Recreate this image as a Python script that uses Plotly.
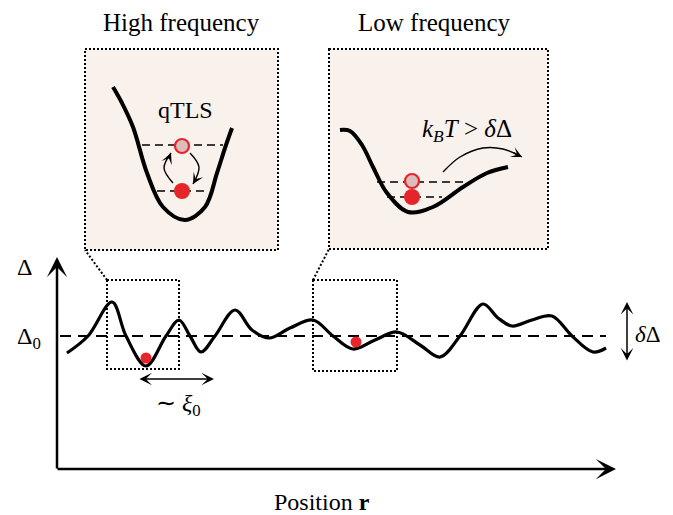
import plotly.graph_objects as go

W, H = 673, 515
OFF = 8  # page body margin compensation
FONT = "Liberation Serif"
RED = "#e5252a"
PINK = "#dcbdbd"
INSET_FILL = "#f8f1ec"

# ---------------- data (canvas units, y grows downward) ----------------
# disordered gap landscape Delta(r)
wave_r = [67, 88, 112, 126, 146, 166, 179, 190, 201, 215, 235, 252, 269, 290, 313,
          333, 353, 375, 397, 420, 440, 460, 483, 498, 512, 532, 552, 572, 593, 606]
wave_delta = [353, 336, 302, 336, 366, 336, 320, 336, 352, 336, 310, 330, 338, 328, 320,
              336, 349, 340, 332, 345, 357, 336, 304, 318, 326, 320, 316, 336, 352, 348]
delta0_r = [60, 606]
delta0_level = [336, 336]

particle_r = [146, 356]
particle_delta = [358, 342]

# zoom windows [x0, x1, y0, y1]
zoom_hf = [107, 179, 280, 369]
zoom_lf = [313, 397, 280, 371]
inset_hf = [85, 278, 49, 250]
inset_lf = [329, 548, 49, 249]

# high-frequency well (qTLS)
hf_well_x = [113, 122, 133, 147, 163, 185, 205, 217, 225, 232]
hf_well_y = [87, 103, 127, 173, 207, 220, 207, 173, 148, 128]
hf_level_x = [[142, 223], [157, 208]]
hf_level_y = [145, 191]
hf_state_x = [182, 182]
hf_state_y = [146, 191]

# low-frequency well
lf_well_x = [340, 350, 362, 373, 387, 408, 433, 463, 487, 508]
lf_well_y = [130, 131, 145, 167, 193, 212, 207, 187, 173, 167]
lf_level_x = [[377, 467], [387, 442]]
lf_level_y = [182, 197]
lf_state_x = [412, 412]
lf_state_y = [181, 197]

# curved arrows (start, middle, end)
hf_arrow_up_x = [173, 164, 171]
hf_arrow_up_y = [183, 168, 153]
hf_arrow_dn_x = [190, 199, 193]
hf_arrow_dn_y = [153, 167, 184]
lf_arrow_x = [443, 460, 483, 503, 522]
lf_arrow_y = [172, 157, 148, 149, 157]

fig = go.Figure()

shapes = []
DOT = dict(color="black", width=2, dash="2px,2px")
for b in (inset_hf, inset_lf):
    shapes.append(dict(type="rect", x0=b[0], x1=b[1], y0=b[2], y1=b[3], layer="below",
                       fillcolor=INSET_FILL, line=DOT))
for b in (zoom_hf, zoom_lf):
    shapes.append(dict(type="rect", x0=b[0], x1=b[1], y0=b[2], y1=b[3], layer="below",
                       fillcolor="rgba(0,0,0,0)", line=DOT))
shapes.append(dict(type="line", x0=zoom_hf[0], y0=zoom_hf[2], x1=inset_hf[0], y1=inset_hf[3], line=DOT))
shapes.append(dict(type="line", x0=zoom_lf[0], y0=zoom_lf[2], x1=inset_lf[0], y1=inset_lf[3], line=DOT))

fig.add_trace(go.Scatter(x=delta0_r, y=delta0_level, mode="lines",
                         line=dict(color="black", width=2.2, dash="11px,7px"), hoverinfo="skip"))
fig.add_trace(go.Scatter(x=wave_r, y=wave_delta, mode="lines",
                         line=dict(color="black", width=3.2, shape="spline", smoothing=1.0),
                         hoverinfo="skip"))
fig.add_trace(go.Scatter(x=particle_r, y=particle_delta, mode="markers",
                         marker=dict(color=RED, size=11), hoverinfo="skip"))

for wx, wy in ((hf_well_x, hf_well_y), (lf_well_x, lf_well_y)):
    fig.add_trace(go.Scatter(x=wx, y=wy, mode="lines",
                             line=dict(color="black", width=4, shape="spline", smoothing=1.0),
                             hoverinfo="skip"))
for lx, ly in ((hf_level_x, hf_level_y), (lf_level_x, lf_level_y)):
    for xs, yv in zip(lx, ly):
        fig.add_trace(go.Scatter(x=xs, y=[yv, yv], mode="lines",
                                 line=dict(color="black", width=1.6, dash="8px,5px"),
                                 hoverinfo="skip"))
for sx, sy in ((hf_state_x, hf_state_y), (lf_state_x, lf_state_y)):
    fig.add_trace(go.Scatter(x=[sx[0]], y=[sy[0]], mode="markers",
                             marker=dict(color=PINK, size=14, line=dict(color=RED, width=2.2)),
                             hoverinfo="skip"))
    fig.add_trace(go.Scatter(x=[sx[1]], y=[sy[1]], mode="markers",
                             marker=dict(color=RED, size=16), hoverinfo="skip"))

for cx, cy in ((hf_arrow_up_x, hf_arrow_up_y), (hf_arrow_dn_x, hf_arrow_dn_y), (lf_arrow_x, lf_arrow_y)):
    fig.add_trace(go.Scatter(x=cx, y=cy, mode="lines",
                             line=dict(color="black", width=1.4, shape="spline", smoothing=1.0),
                             hoverinfo="skip"))

annotations = []


def arrow(x, y, ax, ay, size=1.35, width=2.5, both=False):
    d = dict(x=x, y=y, ax=ax, ay=ay, xref="x", yref="y", axref="x", ayref="y", text="",
             showarrow=True, arrowhead=3, arrowsize=size, arrowwidth=width, arrowcolor="black",
             standoff=0, startstandoff=0)
    if both:
        d.update(arrowside="end+start", startarrowhead=3, startarrowsize=size)
    annotations.append(d)


arrow(616, 469, 56, 469)
arrow(57, 257, 57, 470)
arrow(214, 379, 138, 379, size=1.4, width=1.5, both=True)
arrow(627, 302, 627, 362, size=1.4, width=1.5, both=True)
arrow(hf_arrow_up_x[-1], hf_arrow_up_y[-1], 168, 160, size=1.3, width=1.4)
arrow(hf_arrow_dn_x[-1], hf_arrow_dn_y[-1], 197, 177, size=1.3, width=1.4)
arrow(lf_arrow_x[-1], lf_arrow_y[-1], 512, 152, size=1.3, width=1.4)


def label(x, y, text, size=24, xanchor="center"):
    annotations.append(dict(x=x, y=y, xref="x", yref="y", text=text, showarrow=False,
                            xanchor=xanchor, yanchor="middle",
                            font=dict(family=FONT, size=size, color="black")))


label(181, 22, "High frequency", 25)
label(434, 22, "Low frequency", 25)
label(185, 110, "qTLS", 24)
label(467, 130, "<i>k</i><sub><i>B</i></sub><i>T</i> &gt; <i>δ</i>Δ", 25)
label(24, 267, "Δ", 24)
label(29, 338, "Δ<sub>0</sub>", 24)
label(663, 334, "<i>δ</i>Δ", 23, xanchor="right")
label(178, 405, "∼ <i>ξ</i><sub>0</sub>", 24)
label(322, 502, "Position <b>r</b>", 24)

fig.update_layout(
    width=W, height=H, margin=dict(l=0, r=0, t=0, b=0),
    paper_bgcolor="white", plot_bgcolor="white", showlegend=False,
    xaxis=dict(range=[OFF, W + OFF], visible=False, fixedrange=True),
    yaxis=dict(range=[H + OFF, OFF], visible=False, fixedrange=True),
    shapes=shapes, annotations=annotations,
)

fig.write_html("out.html")
